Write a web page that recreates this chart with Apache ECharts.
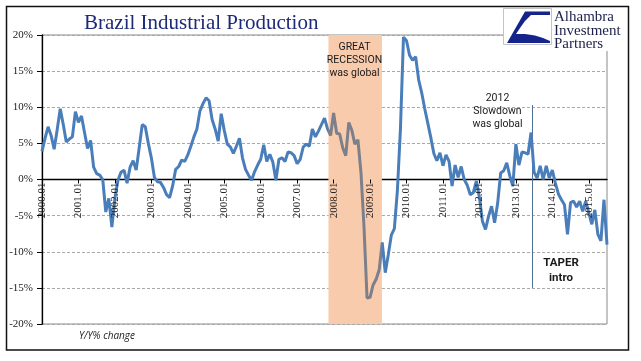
<!DOCTYPE html>
<html><head><meta charset="utf-8">
<script src="https://cdn.jsdelivr.net/npm/echarts@6/dist/echarts.min.js"></script>
<style>html,body{margin:0;padding:0;background:#fff}#c{width:641px;height:361px}</style>
</head><body><div id="c"></div>
<script>
// Brazil industrial production, Y/Y % change, monthly
const ip2000 = [3.9,5.7,7.3,6.1,4.2,6.9,9.8,7.6,5.2,5.6,5.9,9.4];
const ip2001 = [7.9,8.8,6.5,4.3,5.4,1.7,0.8,0.6,0.0,-4.5,-2.6,-6.6];
const ip2002 = [-2.6,-0.1,1.0,1.3,-0.5,1.7,2.6,1.3,4.4,7.6,7.3,5.0];
const ip2003 = [3.0,0.3,-0.3,-0.4,-1.1,-2.1,-2.5,-0.9,1.4,1.8,2.7,2.5];
const ip2004 = [3.4,4.6,5.9,7.0,9.5,10.5,11.3,10.9,8.3,7.0,5.3,9.1];
const ip2005 = [6.8,4.9,4.5,3.6,4.6,5.7,3.0,1.4,0.6,-0.1,1.1,2.0];
const ip2006 = [2.8,4.8,2.5,3.5,2.4,-0.1,2.8,3.0,2.5,3.8,3.7,3.3];
const ip2007 = [2.2,2.8,4.5,4.9,4.6,7.0,5.9,6.7,7.6,8.5,7.0,6.1];
const ip2008 = [9.2,6.4,6.3,4.4,3.3,7.9,6.8,4.9,5.5,1.0,-6.5,-16.4];
const ip2009 = [-16.3,-14.6,-13.8,-12.5,-8.7,-12.9,-10.4,-7.7,-6.8,-1.5,7.0,19.7];
const ip2010 = [19.2,17.2,16.5,17.0,13.8,12.0,9.8,7.8,5.8,3.6,2.6,3.7];
const ip2011 = [1.9,3.4,2.5,-0.9,2.0,0.3,1.8,0.0,-0.8,-2.1,-1.8,-0.2];
const ip2012 = [-2.5,-5.8,-6.9,-5.1,-3.7,-6.0,-3.3,0.9,1.2,2.3,0.5,-0.9];
const ip2013 = [4.9,2.0,3.8,3.7,3.5,6.5,1.0,0.2,1.9,0.0,1.9,0.2];
const ip2014 = [1.3,-0.5,-2.0,-2.8,-3.5,-7.6,-3.2,-3.0,-3.8,-3.0,-4.4,-3.0];
const ip2015 = [-4.6,-6.2,-4.2,-7.6,-8.5,-2.8,-9.0];

const startYear = 2000;
const yMin = -20, yMax = 20, yStep = 5;
// Shaded "Great Recession" period and taper marker, in month-index units
const recessionSpan = [94.3, 111.9];
const taperMonth = 161.5;
const taperRange = [10.3, -15];

const values = [].concat(ip2000, ip2001, ip2002, ip2003, ip2004, ip2005, ip2006, ip2007,
  ip2008, ip2009, ip2010, ip2011, ip2012, ip2013, ip2014, ip2015);
const monthLabels = values.map((_, i) =>
  (startYear + Math.floor(i / 12)) + '.' + String(i % 12 + 1).padStart(2, '0'));
const seriesData = values.map((v, i) => [i, v]);
const lastIdx = values.length - 1;

const chart = echarts.init(document.getElementById('c'), null, {renderer: 'canvas'});
const serif = '"Liberation Serif", "Times New Roman", serif';
const sans = 'Roboto, "Liberation Sans", sans-serif';

const txt = (text, x, y, opts) => ({
  type: 'text', z: 50,
  style: Object.assign({text: text, x: x, y: y, textAlign: 'center', textVerticalAlign: 'middle',
    font: '10.5px ' + sans, fill: '#1a1a1a'}, opts || {})
});

// plot box
const gLeft = 42, gRight = 34, gTop = 35, gBottom = 37;
const plotH = 361 - gTop - gBottom;
// second grid: same box, bottom edge on the 0% line, carries the month labels
const zeroBottom = gBottom + plotH * (0 - yMin) / (yMax - yMin);

chart.setOption({
  animation: false,
  backgroundColor: '#fff',
  grid: [
    {left: gLeft, right: gRight, top: gTop, bottom: gBottom, show: true, borderColor: '#8a8a8a', borderWidth: 1},
    {left: gLeft, right: gRight, top: gTop, bottom: zeroBottom, show: false}
  ],
  xAxis: [{
    gridIndex: 0, type: 'value', min: 0, max: lastIdx, interval: 12, z: 0,
    axisLine: {show: true, onZero: true, lineStyle: {color: '#000', width: 1.3}},
    axisTick: {show: false}, axisLabel: {show: false}, splitLine: {show: false}
  }, {
    gridIndex: 1, type: 'value', min: 0, max: lastIdx, interval: 12, z: 10, position: 'bottom',
    axisLine: {show: false, onZero: false},
    axisTick: {show: true, length: 4, lineStyle: {color: '#000', width: 1}},
    axisLabel: {show: true, rotate: 90, margin: 3, color: '#222',
      fontFamily: serif, fontSize: 11, showMaxLabel: false,
      formatter: v => (v % 12 === 0 ? monthLabels[v] : '')},
    splitLine: {show: false}
  }],
  yAxis: [{
    gridIndex: 0, type: 'value', min: yMin, max: yMax, interval: yStep,
    axisLine: {show: true, lineStyle: {color: '#000', width: 1.3}},
    axisTick: {show: true, length: 5, lineStyle: {color: '#000'}},
    axisLabel: {formatter: v => v + '%', color: '#222', fontFamily: serif, fontSize: 11, margin: 9},
    splitLine: {show: true, lineStyle: {color: '#a8a8a8', type: [3, 2], width: 1}}
  }, {
    gridIndex: 1, type: 'value', min: 0, max: yMax, show: false
  }],
  visualMap: {
    show: false, type: 'piecewise', dimension: 0, seriesIndex: 0,
    pieces: [{gte: recessionSpan[0], lte: recessionSpan[1], color: '#7d7f8a'}],
    outOfRange: {color: '#4a7ebb'}
  },
  series: [{
    type: 'line', data: seriesData, xAxisIndex: 0, yAxisIndex: 0, showSymbol: false, symbol: 'none',
    lineStyle: {width: 3}, z: 5,
    markArea: {silent: true, itemStyle: {color: '#f8cbad', opacity: 1},
      data: [[{xAxis: recessionSpan[0]}, {xAxis: recessionSpan[1]}]]},
    markLine: {silent: true, symbol: 'none', label: {show: false},
      lineStyle: {color: '#4f6f95', width: 1, type: 'solid'},
      data: [[{coord: [taperMonth, taperRange[0]]}, {coord: [taperMonth, taperRange[1]]}]]}
  }],
  graphic: [
    txt('Brazil Industrial Production', 84, 23, {textAlign: 'left', font: '21px ' + serif, fill: '#1e2a78'}),
    {type: 'rect', z: 40, shape: {x: 503, y: 7, width: 125, height: 44}, style: {fill: '#fff'}},
    {type: 'rect', z: 41, shape: {x: 503.5, y: 8.5, width: 48, height: 36}, style: {fill: '#fff', stroke: '#c4c4c4', lineWidth: 1}},
    {type: 'polygon', z: 42, shape: {points: [[507,43],[525,11.5],[550,11.5],[550,15],[531,15],[525,21],[520,28],[516,34],[525,34],[535,35.5],[543,38],[550,41],[550,43]]}, style: {fill: '#14248a'}},
    txt('Alhambra', 554, 17.5, {textAlign: 'left', font: '15px ' + serif, fill: '#1c1f4a'}),
    txt('Investment', 554, 31, {textAlign: 'left', font: '15px ' + serif, fill: '#1c1f4a'}),
    txt('Partners', 554, 44.5, {textAlign: 'left', font: '15px ' + serif, fill: '#1c1f4a'}),
    txt('GREAT', 354.5, 47),
    txt('RECESSION', 354.5, 60.5),
    txt('was global', 354.5, 73.5),
    txt('2012', 497.5, 98.5),
    txt('Slowdown', 497.5, 111.5),
    txt('was global', 497.5, 124.5),
    txt('TAPER', 561, 263, {font: 'bold 11.5px ' + sans}),
    txt('intro', 561, 278.5, {font: 'bold 11.5px ' + sans}),
    txt('Y/Y% change', 107, 336, {font: 'italic 10px "Open Sans", sans-serif', fill: '#222'}),
    {type: 'rect', z: 60, shape: {x: 6.5, y: 6.5, width: 622, height: 343.5}, style: {fill: 'none', stroke: '#111', lineWidth: 1.5}}
  ]
});
</script></body></html>
